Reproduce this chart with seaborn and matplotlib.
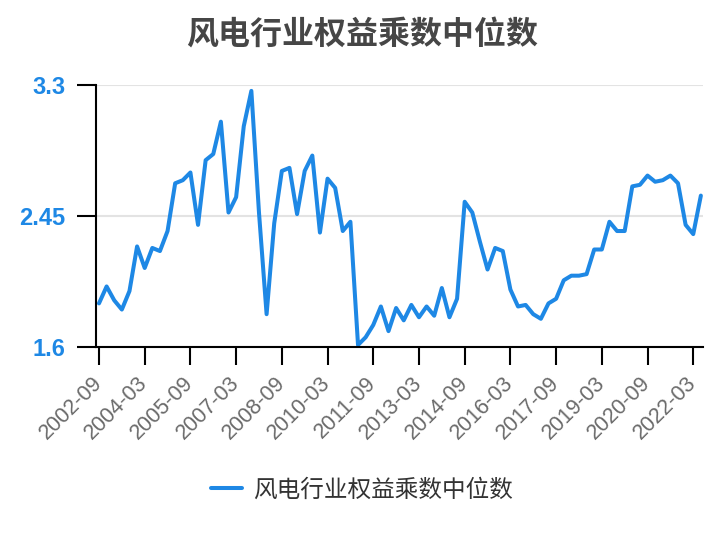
import numpy as np
import pandas as pd
import matplotlib
matplotlib.use("Agg")
import matplotlib.pyplot as plt
import seaborn as sns

sns.set_theme(style="white")
plt.rcParams['font.family'] = ['Noto Sans CJK SC', 'DejaVu Sans']

# 季度数据 2002-09 ~ 2022-06
title = "风电行业权益乘数中位数"
series_name = "风电行业权益乘数中位数"
values = [1.88, 1.99, 1.90, 1.84, 1.96, 2.25, 2.11, 2.24, 2.22, 2.35,
          2.66, 2.68, 2.73, 2.39, 2.81, 2.85, 3.06, 2.47, 2.57, 3.03,
          3.26, 2.47, 1.81, 2.40, 2.74, 2.76, 2.46, 2.74, 2.84, 2.34,
          2.69, 2.63, 2.35, 2.41, 1.61, 1.66, 1.74, 1.86, 1.70, 1.85,
          1.77, 1.87, 1.79, 1.86, 1.80, 1.98, 1.79, 1.91, 2.54, 2.47,
          2.28, 2.10, 2.24, 2.22, 1.97, 1.86, 1.87, 1.81, 1.78, 1.88,
          1.91, 2.03, 2.06, 2.06, 2.07, 2.23, 2.23, 2.41, 2.35, 2.35,
          2.64, 2.65, 2.71, 2.67, 2.68, 2.71, 2.66, 2.39, 2.33, 2.58]
tick_labels = ["2002-09", "2004-03", "2005-09", "2007-03", "2008-09", "2010-03", "2011-09",
               "2013-03", "2014-09", "2016-03", "2017-09", "2019-03", "2020-09", "2022-03"]
y_ticks = [1.6, 2.45, 3.3]
y_tick_labels = ["1.6", "2.45", "3.3"]

dates = pd.date_range("2002-09-01", periods=len(values), freq="3MS").strftime("%Y-%m")
df = pd.DataFrame({"date": dates, "pos": np.arange(len(values)), "value": values})

blue = "#1e88e5"

fig = plt.figure(figsize=(7.24, 5.40), dpi=100)
ax = fig.add_axes([0.1322, 0.3583, 0.839, 0.4848])

sns.lineplot(data=df, x="pos", y="value", ax=ax, color=blue, linewidth=2.9,
             label=series_name, legend=False, clip_on=False)

ax.set_xlim(-0.43, len(values) - 1 + 0.3)
ax.set_ylim(y_ticks[0], y_ticks[-1])
tick_pos = [list(df["date"]).index(t) for t in tick_labels]
ax.set_xticks(tick_pos)
ax.set_xticklabels(tick_labels, rotation=45, ha="right", va="center",
                   rotation_mode="anchor", fontsize=15.5, color="#6a6a6a",
                   family="Liberation Sans")
ax.set_yticks(y_ticks)
ax.set_yticklabels(y_tick_labels, fontsize=17, color=blue, fontweight="bold",
                   family="Liberation Sans")
ax.set_xlabel("")
ax.set_ylabel("")

ax.yaxis.grid(True, color="#e3e3e3", linewidth=1.5)
ax.xaxis.grid(False)
for s in ["top", "right"]:
    ax.spines[s].set_visible(False)
for s in ["left", "bottom"]:
    ax.spines[s].set_color("black")
    ax.spines[s].set_linewidth(1.5)
ax.tick_params(axis="y", direction="out", length=14, width=1.5, color="black", pad=8, left=True)
ax.tick_params(axis="x", direction="out", length=13, width=1.5, color="black", pad=11, bottom=True)

fig.text(0.5, 1 - 35 / 540, title, ha="center", va="center", fontsize=23,
         color="#464646", fontweight="bold")

handles, labels = ax.get_legend_handles_labels()
fig.legend(handles, labels, loc="center", bbox_to_anchor=(0.5, 1 - 490 / 540),
           frameon=False, fontsize=17, handlelength=1.3, handletextpad=0.5,
           labelcolor="#333333")

fig.savefig("out.png", dpi=100)
